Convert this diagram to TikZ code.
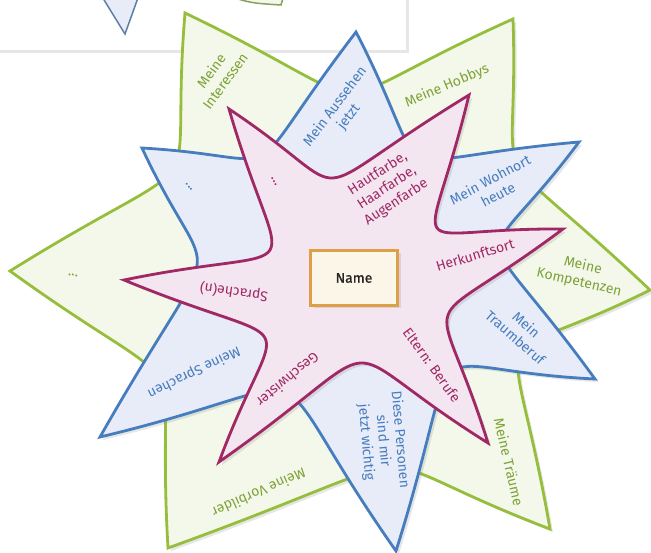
\documentclass[tikz,border=0pt]{standalone}
\usepackage{fontspec}
\setmainfont{Fira Sans}
\usetikzlibrary{calc, shadows}
\definecolor{gruen}{RGB}{150,190,60}
\definecolor{gruenfill}{RGB}{244,248,234}
\definecolor{gruentext}{RGB}{125,162,55}
\definecolor{blau}{RGB}{70,125,190}
\definecolor{blaufill}{RGB}{232,236,248}
\definecolor{rosa}{RGB}{160,40,100}
\definecolor{rosafill}{RGB}{243,230,240}
\definecolor{namerand}{RGB}{222,160,70}
\definecolor{namefill}{RGB}{252,246,232}

\begin{document}
\begin{tikzpicture}[x=1pt, y=-1pt,
	schatten/.style={drop shadow={opacity=.2, shadow xshift=3pt, shadow yshift=-3pt}},
	stern/.style={line width=2.8pt, line join=miter, schatten},
	gruenstern/.style={stern, draw=gruen, fill=gruenfill},
	blaustern/.style={stern, draw=blau, fill=blaufill},
	rosastern/.style={stern, draw=rosa, fill=rosafill},
	etikett/.style={align=center, font=\fontsize{14}{17}\selectfont},
	gtext/.style={etikett, text=gruentext},
	btext/.style={etikett, text=blau},
	rtext/.style={etikett, text=rosa},
	namebox/.style={draw=namerand, fill=namefill, line width=3.5pt, minimum width=87pt, minimum height=55pt, text=black!85, font=\fontsize{14}{17}\selectfont\addfontfeatures{FakeBold=1}, schatten}]
	\useasboundingbox (0,0) rectangle (651,553);
	% Rest der vorigen Abbildung
	\fill[white, schatten] (-10,-10) rectangle (406,50);
	\filldraw[fill=blaufill, draw=blau!60!gray, line width=1.5pt] (101,-5) -- (125,34) -- (139,-5);
	\filldraw[fill=gruenfill, draw=gruen!50!gray, line width=1.5pt] (226,-5) .. controls (250,3) .. (281,5) -- (284,-5);
	% Spitzen und innere Punkte
	\coordinate (g1) at (185,13);  \coordinate (gi1) at (350,92);
	\coordinate (g2) at (513,19);  \coordinate (gi2) at (518,165);
	\coordinate (g3) at (650,290); \coordinate (gi3) at (520,355);
	\coordinate (g4) at (550,529); \coordinate (gi4) at (390,468);
	\coordinate (g5) at (168,548); \coordinate (gi5) at (158,378);
	\coordinate (g6) at (10,271);  \coordinate (gi6) at (172,170);
	\coordinate (b1) at (356,32);  \coordinate (bi1) at (420,156);
	\coordinate (b2) at (579,142); \coordinate (bi2) at (500,248);
	\coordinate (b3) at (595,379); \coordinate (bi3) at (452,372);
	\coordinate (b4) at (396,551); \coordinate (bi4) at (285,393);
	\coordinate (b5) at (100,437); \coordinate (bi5) at (197,266);
	\coordinate (b6) at (142,148); \coordinate (bi6) at (262,155);
	\coordinate (p1) at (229,109); \coordinate (pi1) at (333,178);
	\coordinate (p2) at (469,95);  \coordinate (pi2) at (437,228);
	\coordinate (p3) at (563,229); \coordinate (pi3) at (448,315);
	\coordinate (p4) at (488,443); \coordinate (pi4) at (360,363);
	\coordinate (p5) at (219,462); \coordinate (pi5) at (265,338);
	\coordinate (p6) at (124,280); \coordinate (pi6) at (270,250);
	% gruener Stern
	\draw[gruenstern] (g1)
		.. controls ($(g1)!1.333!(gi1)$) and ($(g2)!1.333!(gi1)$) .. (g2)
		.. controls ($(g2)!1.333!(gi2)$) and ($(g3)!1.333!(gi2)$) .. (g3)
		.. controls ($(g3)!1.333!(gi3)$) and ($(g4)!1.333!(gi3)$) .. (g4)
		.. controls ($(g4)!1.333!(gi4)$) and ($(g5)!1.333!(gi4)$) .. (g5)
		.. controls ($(g5)!1.333!(gi5)$) and ($(g6)!1.333!(gi5)$) .. (g6)
		.. controls ($(g6)!1.333!(gi6)$) and ($(g1)!1.333!(gi6)$) .. cycle;
	% blauer Stern
	\draw[blaustern] (b1)
		.. controls ($(b1)!1.333!(bi1)$) and ($(b2)!1.333!(bi1)$) .. (b2)
		.. controls ($(b2)!1.333!(bi2)$) and ($(b3)!1.333!(bi2)$) .. (b3)
		.. controls ($(b3)!1.333!(bi3)$) and ($(b4)!1.333!(bi3)$) .. (b4)
		.. controls ($(b4)!1.333!(bi4)$) and ($(b5)!1.333!(bi4)$) .. (b5)
		.. controls ($(b5)!1.333!(bi5)$) and ($(b6)!1.333!(bi5)$) .. (b6)
		.. controls ($(b6)!1.333!(bi6)$) and ($(b1)!1.333!(bi6)$) .. cycle;
	% rosa Stern
	\draw[rosastern] (p1)
		.. controls ($(p1)!1.333!(pi1)$) and ($(p2)!1.333!(pi1)$) .. (p2)
		.. controls ($(p2)!1.333!(pi2)$) and ($(p3)!1.333!(pi2)$) .. (p3)
		.. controls ($(p3)!1.333!(pi3)$) and ($(p4)!1.333!(pi3)$) .. (p4)
		.. controls ($(p4)!1.333!(pi4)$) and ($(p5)!1.333!(pi4)$) .. (p5)
		.. controls ($(p5)!1.333!(pi5)$) and ($(p6)!1.333!(pi5)$) .. (p6)
		.. controls ($(p6)!1.333!(pi6)$) and ($(p1)!1.333!(pi6)$) .. cycle;
	% Beschriftungen
	\node[gtext, rotate=54] (interessen) at (218,76) {Meine\\Interessen};
	\node[gtext, rotate=23] (hobbys) at (447,86) {Meine Hobbys};
	\node[gtext, rotate=-13] (kompetenzen) at (581,274) {Meine\\Kompetenzen};
	\node[gtext, rotate=-77] (traeume) at (509,462) {Meine Träume};
	\node[gtext, rotate=204] (vorbilder) at (259,493) {Meine Vorbilder};
	\node[gtext, rotate=-8] (gpunkte) at (73,275) {...};
	\node[btext, rotate=53] (aussehen) at (342,112) {Mein Aussehen\\jetzt};
	\node[btext, rotate=28] (wohnort) at (494,187) {Mein Wohnort\\heute};
	\node[btext, rotate=-41] (traumberuf) at (521,331) {Mein\\Traumberuf};
	\node[btext, rotate=-85] (personen) at (383,441) {Diese Personen\\sind mir\\jetzt wichtig};
	\node[btext, rotate=206] (sprachen) at (194,372) {Meine Sprachen};
	\node[btext, rotate=-50] (bpunkte) at (189,187) {...};
	\node[rtext, rotate=33] (farbe) at (387,188) {Hautfarbe,\\Haarfarbe,\\Augenfarbe};
	\node[rtext, rotate=17] (herkunft) at (475,255) {Herkunftsort};
	\node[rtext, rotate=-54] (eltern) at (432,365) {Eltern: Berufe};
	\node[rtext, rotate=220] (geschwister) at (288,380) {Geschwister};
	\node[rtext, rotate=172] (sprache) at (234,292) {Sprache(n)};
	\node[rtext, rotate=-63] (rpunkte) at (274,182) {...};
	\node[namebox] (name) at (354,278) {Name};
\end{tikzpicture}
\end{document}
